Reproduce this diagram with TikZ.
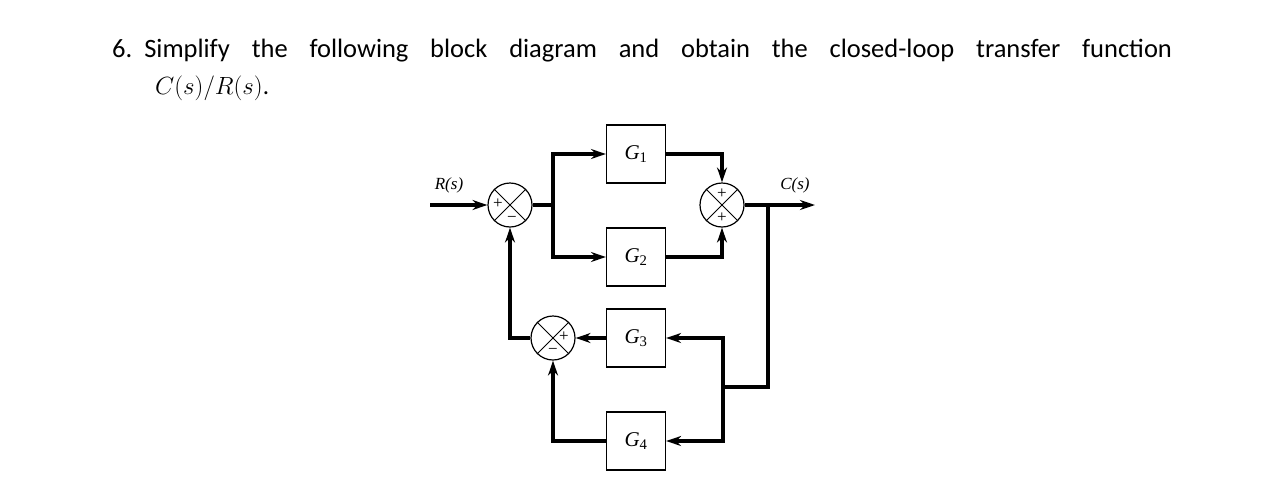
\documentclass[tikz,border=0pt]{standalone}
\usepackage{fontspec}
\setmainfont{Carlito}
\newfontfamily\tms{Liberation Serif}
\usetikzlibrary{arrows.meta}
\begin{document}
\begin{tikzpicture}[x=1pt,y=-1pt]

 \tikzset{
    blk/.style={draw, line width=1.2pt, minimum width=59pt, minimum height=58pt,
      inner sep=0pt, font=\tms\fontsize{21}{21}\selectfont\itshape},
    sumj/.style={draw, circle, line width=1.2pt, minimum size=44pt, inner sep=0pt},
    sig/.style={line width=3.6pt},
    sga/.style={line width=3.6pt, -{Stealth[length=15pt,width=10pt]}},
    sgn/.style={font=\tms\fontsize{17}{17}\selectfont, inner sep=0pt}
  }

\useasboundingbox (0,0) rectangle (1284,482);

% question text
\node[anchor=west, inner sep=0pt, font=\fontsize{26.5}{26.5}\selectfont] (q1) at (112,51)
  {\makebox[1060pt][s]{6.\hspace{12pt}Simplify the following block diagram and obtain the closed-loop transfer function}};
\node[anchor=west, inner sep=0pt, font=\fontsize{25}{25}\selectfont] (q2) at (155,88) {$C(s)/R(s)$.};

% blocks
\node[blk] (g1) at (636,154) {G\textsubscript{\upshape 1}};
\node[blk] (g2) at (636,257) {G\textsubscript{\upshape 2}};
\node[blk] (g3) at (636,338) {G\textsubscript{\upshape 3}};
\node[blk] (g4) at (636,441) {G\textsubscript{\upshape 4}};

% summing points
\node[sumj] (s1) at (510,205) {};
\node[sumj] (s2) at (722,205) {};
\node[sumj] (s3) at (553,338) {};
\foreach \s in {s1,s2,s3} {
  \draw[line width=0.8pt] (\s.north west) -- (\s.south east);
  \draw[line width=0.8pt] (\s.north east) -- (\s.south west);
}
\node[sgn] at (498,204) {+};
\node[sgn] at (512,219) {\textminus};
\node[sgn] at (722,194) {+};
\node[sgn] at (722,218) {+};
\node[sgn] at (564,337) {+};
\node[sgn] at (553,351) {\textminus};

% points
\coordinate (rin) at (430,205);
\coordinate (br) at (553,205);
\coordinate (co) at (768,205);
\coordinate (cout) at (815,205);
\coordinate (fb) at (723,387);

\node[font=\tms\fontsize{17}{17}\selectfont\itshape] (rl) at (449,185) {R(s)};
\node[font=\tms\fontsize{17}{17}\selectfont\itshape] (cl) at (795,185) {C(s)};

% forward paths
\draw[sga] (rin) -- (s1.west);
\draw[sig] (s1.east) -- (br);
\draw[sga] (br) |- (g1.west);
\draw[sga] (br) |- (g2.west);
\draw[sga] (g1.east) -| (s2.north);
\draw[sga] (g2.east) -| (s2.south);
\draw[sga] (s2.east) -- (cout);

% feedback paths
\draw[sig] (co) |- (fb);
\draw[sga] (fb) |- (g3.east);
\draw[sga] (fb) |- (g4.east);
\draw[sga] (g3.west) -- (s3.east);
\draw[sga] (g4.west) -| (s3.south);
\draw[sga] (s3.west) -| (s1.south);
\end{tikzpicture}
\end{document}
